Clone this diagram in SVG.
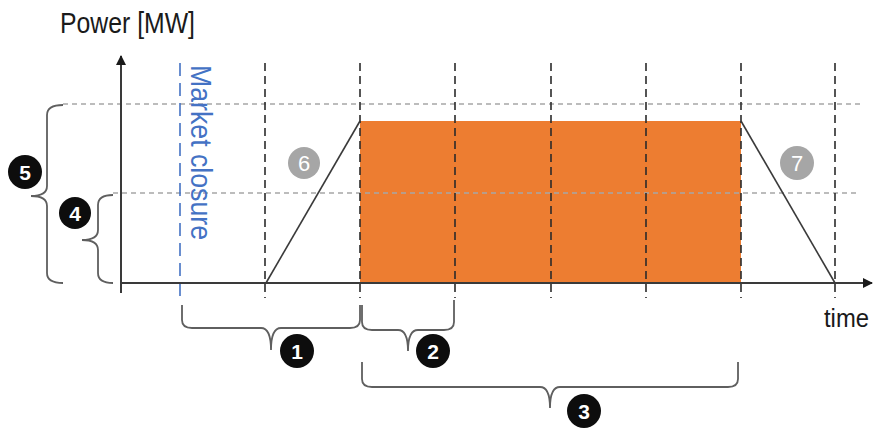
<svg xmlns="http://www.w3.org/2000/svg" width="874" height="433" viewBox="0 0 874 433">
  <style>
    .axis { stroke: #3a3a3a; stroke-width: 2; fill: none; }
    .ramp { stroke: #3a3a3a; stroke-width: 1.6; fill: none; }
    .slot { stroke: #2b2b2b; stroke-width: 1.6; stroke-dasharray: 8 5; fill: none; }
    .level { stroke: #a6a6a6; stroke-width: 1.6; stroke-dasharray: 5 4; fill: none; }
    .closure { stroke: #4472c4; stroke-width: 1.6; stroke-dasharray: 13 7; fill: none; }
    .brace { stroke: #5f5f5f; stroke-width: 1.8; fill: none; }
    .label { font-family: "Liberation Sans", Arial, sans-serif; fill: #1a1a1a; }
    .badge { fill: #0d0d0d; }
    .badge-gray { fill: #a6a6a6; }
    .num { font-family: "Liberation Sans", Arial, sans-serif; font-weight: bold; font-size: 21px; fill: #ffffff; text-anchor: middle; }
    .num-gray { font-family: "Liberation Sans", Arial, sans-serif; font-size: 22px; fill: #ffffff; text-anchor: middle; }
  </style>
  <defs>
    <marker id="arrow" markerWidth="10" markerHeight="10" refX="9" refY="5" orient="auto" markerUnits="userSpaceOnUse">
      <path d="M0,0 L10,5 L0,10 Z" fill="#1a1a1a"/>
    </marker>
  </defs>

  <rect width="874" height="433" fill="#ffffff"/>

  <!-- delivered block -->
  <g id="block">
    <rect x="360" y="121" width="381" height="162" fill="#ed7d31"/>
  </g>

  <!-- power levels -->
  <g id="levels">
    <line class="level" x1="63" y1="104" x2="860" y2="104"/>
    <line class="level" x1="113" y1="193" x2="860" y2="193"/>
  </g>

  <!-- time slots -->
  <g id="slots">
    <line class="slot" x1="265" y1="63" x2="265" y2="298"/>
    <line class="slot" x1="360" y1="63" x2="360" y2="298"/>
    <line class="slot" x1="455" y1="63" x2="455" y2="298"/>
    <line class="slot" x1="551" y1="63" x2="551" y2="298"/>
    <line class="slot" x1="646" y1="63" x2="646" y2="298"/>
    <line class="slot" x1="741" y1="63" x2="741" y2="298"/>
    <line class="slot" x1="835" y1="63" x2="835" y2="298"/>
  </g>

  <!-- market closure -->
  <g id="market-closure">
    <line class="closure" x1="180" y1="63" x2="180" y2="300"/>
    <text class="label" transform="translate(191,65) rotate(90)" font-size="30" style="fill:#4472c4" textLength="175" lengthAdjust="spacingAndGlyphs">Market closure</text>
  </g>

  <!-- ramps -->
  <g id="ramps">
    <polyline class="ramp" points="266,283 360,121"/>
    <polyline class="ramp" points="741,121 835,283"/>
  </g>

  <!-- axes -->
  <g id="axes">
    <line class="axis" x1="121" y1="293" x2="121" y2="56" marker-end="url(#arrow)"/>
    <line class="axis" x1="121" y1="283" x2="872" y2="283" marker-end="url(#arrow)"/>
    <text class="label" x="60" y="33" font-size="29" textLength="135" lengthAdjust="spacingAndGlyphs">Power [MW]</text>
    <text class="label" x="824" y="327" font-size="26" textLength="45" lengthAdjust="spacingAndGlyphs">time</text>
  </g>

  <!-- braces -->
  <g id="braces">
    <path class="brace" d="M63,105 Q47,105 47,115 L47,186 Q47,196 31,196 Q47,196 47,206 L47,273 Q47,283 63,283"/>
    <path class="brace" d="M113,195 Q98,195 98,205 L98,230 Q98,240 82,240 Q98,240 98,250 L98,273 Q98,283 113,283"/>
    <path class="brace" d="M182,305 L182,320 Q182,328 192,328 L261,328 Q271,328 271,350 Q271,328 281,328 L350,328 Q360,328 360,320 L360,305"/>
    <path class="brace" d="M362,305 L362,322 Q362,330 372,330 L398,330 Q408,330 408,351 Q408,330 418,330 L444,330 Q454,330 454,322 L454,300"/>
    <path class="brace" d="M362,362 L362,379 Q362,387 372,387 L540,387 Q550,387 550,408 Q550,387 560,387 L728,387 Q738,387 738,379 L738,362"/>
  </g>

  <!-- numbered markers -->
  <g id="badge-1"><circle class="badge" cx="297" cy="351" r="17"/><text class="num" x="297" y="358.5">1</text></g>
  <g id="badge-2"><circle class="badge" cx="433" cy="351" r="17"/><text class="num" x="433" y="358.5">2</text></g>
  <g id="badge-3"><circle class="badge" cx="584" cy="411" r="17"/><text class="num" x="584" y="418.5">3</text></g>
  <g id="badge-4"><circle class="badge" cx="75" cy="213" r="16"/><text class="num" x="75" y="220.5">4</text></g>
  <g id="badge-5"><circle class="badge" cx="25" cy="172" r="17"/><text class="num" x="25" y="179.5">5</text></g>
  <g id="badge-6"><circle class="badge-gray" cx="304" cy="163" r="16"/><text class="num-gray" x="304" y="171">6</text></g>
  <g id="badge-7"><circle class="badge-gray" cx="797" cy="163" r="17"/><text class="num-gray" x="797" y="171">7</text></g>
</svg>
